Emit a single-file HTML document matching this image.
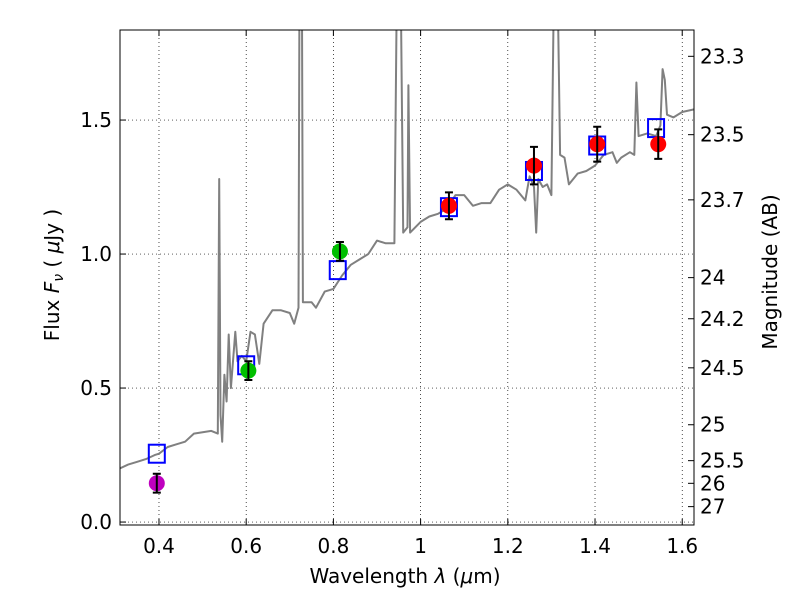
<!DOCTYPE html>
<html><head><meta charset="utf-8"><style>
body{margin:0;background:#fff}
svg text{font-family:"DejaVu Sans","Liberation Sans",sans-serif;fill:#000}
</style></head><body>
<svg id="chart" width="800" height="600" xmlns="http://www.w3.org/2000/svg">
<defs><clipPath id="clip"><rect x="120" y="30" width="574" height="495"/></clipPath></defs>
<rect x="0" y="0" width="800" height="600" fill="#fff"/>
<g id="grid"></g>
<g id="spec" clip-path="url(#clip)"></g>
<g id="marks"></g>
<rect x="120" y="30" width="574" height="495" fill="none" stroke="#000" stroke-width="1"/>
<g id="axes"></g>
<text x="405" y="583" font-size="20" text-anchor="middle">Wavelength  <tspan font-style="italic">λ</tspan> (<tspan font-style="italic">μ</tspan>m)</text>
<text transform="translate(59,275) rotate(-90)" font-size="20" text-anchor="middle">Flux  <tspan font-style="italic">F</tspan><tspan font-style="italic" font-size="14" dy="4">ν</tspan><tspan dy="-4">  ( </tspan><tspan font-style="italic">μ</tspan>Jy )</text>
<text transform="translate(777,272) rotate(-90)" font-size="20" text-anchor="middle">Magnitude (AB)</text>
</svg>
<script>
const xTicks=[0.4,0.6,0.8,1.0,1.2,1.4,1.6];
const xTickLabels=["0.4","0.6","0.8","1","1.2","1.4","1.6"];
const yTicks=[0,0.5,1.0,1.5];
const yTickLabels=["0.0","0.5","1.0","1.5"];
const magTicks=[23.3,23.5,23.7,24,24.2,24.5,25,25.5,26,27];
const magTickLabels=["23.3","23.5","23.7","24","24.2","24.5","25","25.5","26","27"];
const specWl=[0.31,0.33,0.35,0.37,0.39,0.40,0.42,0.44,0.46,0.48,0.50,0.52,0.535,0.538,0.541,0.545,0.55,0.555,0.56,0.565,0.575,0.58,0.59,0.60,0.61,0.62,0.63,0.64,0.66,0.68,0.70,0.71,0.72,0.722,0.728,0.73,0.75,0.76,0.78,0.80,0.82,0.84,0.86,0.88,0.90,0.92,0.94,0.945,0.955,0.96,0.97,0.972,0.976,1.00,1.02,1.04,1.06,1.08,1.10,1.12,1.14,1.16,1.18,1.20,1.22,1.24,1.25,1.26,1.265,1.27,1.28,1.29,1.30,1.305,1.315,1.32,1.33,1.34,1.36,1.38,1.40,1.42,1.44,1.45,1.46,1.48,1.49,1.495,1.50,1.52,1.54,1.55,1.555,1.56,1.565,1.58,1.60,1.627];
const specFlux=[0.20,0.215,0.225,0.235,0.25,0.255,0.28,0.29,0.30,0.33,0.335,0.34,0.33,1.28,0.40,0.30,0.55,0.45,0.70,0.50,0.71,0.60,0.62,0.60,0.71,0.70,0.59,0.74,0.79,0.79,0.78,0.74,0.80,1.9,1.9,0.82,0.82,0.80,0.86,0.87,0.92,0.96,0.98,1.00,1.05,1.04,1.04,1.9,1.9,1.08,1.10,1.63,1.08,1.12,1.14,1.15,1.17,1.22,1.22,1.18,1.19,1.19,1.24,1.26,1.24,1.20,1.29,1.25,1.08,1.28,1.25,1.26,1.22,1.9,1.9,1.37,1.36,1.26,1.30,1.31,1.33,1.37,1.38,1.34,1.36,1.38,1.37,1.64,1.44,1.45,1.44,1.48,1.69,1.65,1.52,1.51,1.53,1.54];
const modelWl=[0.395,0.60,0.81,1.065,1.26,1.405,1.54];
const modelFlux=[0.255,0.585,0.94,1.175,1.31,1.405,1.47];
const obsWl=[0.395,0.605,0.815,1.065,1.26,1.405,1.545];
const obsFlux=[0.145,0.565,1.01,1.18,1.33,1.41,1.41];
const obsErr=[0.035,0.035,0.035,0.05,0.07,0.065,0.055];
const obsColor=["#bf00bf","#00bf00","#00bf00","#ff0000","#ff0000","#ff0000","#ff0000"];

const NS="http://www.w3.org/2000/svg";
const X0=120,X1=694,Y0=525,Y1=30,XMIN=0.3106,XMAX=1.627,YMIN=-0.011,YMAX=1.836;
const sx=v=>X0+(v-XMIN)/(XMAX-XMIN)*(X1-X0);
const sy=v=>Y0-(v-YMIN)/(YMAX-YMIN)*(Y0-Y1);
const mk=(t,a,p)=>{const e=document.createElementNS(NS,t);for(const k in a)e.setAttribute(k,a[k]);p.appendChild(e);return e;};
const grid=document.getElementById('grid'),axes=document.getElementById('axes'),spec=document.getElementById('spec'),marks=document.getElementById('marks');

xTicks.forEach((t,i)=>{const x=sx(t);
 const g=mk('line',{x1:x,x2:x,y1:Y1,y2:Y0,stroke:'#000','stroke-width':0.7,'stroke-dasharray':'1,3'},grid);
 
 mk('line',{x1:x,x2:x,y1:Y0,y2:Y0-6,stroke:'#000'},axes);
 mk('line',{x1:x,x2:x,y1:Y1,y2:Y1+6,stroke:'#000'},axes);
 const tx=mk('text',{x:x,y:553,'font-size':20,'text-anchor':'middle'},axes);tx.textContent=xTickLabels[i];
 
});
yTicks.forEach((t,i)=>{const y=sy(t);
 const g=mk('line',{x1:X0,x2:X1,y1:y,y2:y,stroke:'#000','stroke-width':0.7,'stroke-dasharray':'1,3'},grid);
 
 mk('line',{x1:X0,x2:X0+6,y1:y,y2:y,stroke:'#000'},axes);
 const tx=mk('text',{x:112,y:y+7,'font-size':20,'text-anchor':'end'},axes);tx.textContent=yTickLabels[i];
 
});
magTicks.forEach((m,i)=>{const y=sy(Math.pow(10,(23.9-m)/2.5));
 mk('line',{x1:X1,x2:X1-6,y1:y,y2:y,stroke:'#000'},axes);
 const tx=mk('text',{x:700,y:y+7,'font-size':20},axes);tx.textContent=magTickLabels[i];
 
});
let d=specWl.map((w,i)=>(i?'L':'M')+sx(w).toFixed(1)+','+sy(specFlux[i]).toFixed(1)).join('');
const p=mk('path',{d:d,fill:'none',stroke:'#808080','stroke-width':2,'stroke-linejoin':'round'},spec);

modelWl.forEach((w,i)=>{const r=mk('rect',{x:sx(w)-8,y:sy(modelFlux[i])-9,width:16,height:18,fill:'none',stroke:'#0000ff','stroke-width':2},marks);
 });
obsWl.forEach((w,i)=>{const x=sx(w);
 const c=mk('ellipse',{cx:x,cy:sy(obsFlux[i]),rx:8,ry:8,fill:obsColor[i]},marks);
 
 const yt=sy(obsFlux[i]+obsErr[i]),yb=sy(obsFlux[i]-obsErr[i]);
 const e=mk('path',{d:`M${x},${yt}L${x},${yb}M${x-4},${yt}L${x+4},${yt}M${x-4},${yb}L${x+4},${yb}`,stroke:'#000','stroke-width':2,fill:'none'},marks);
 
});
</script>
</body></html>
